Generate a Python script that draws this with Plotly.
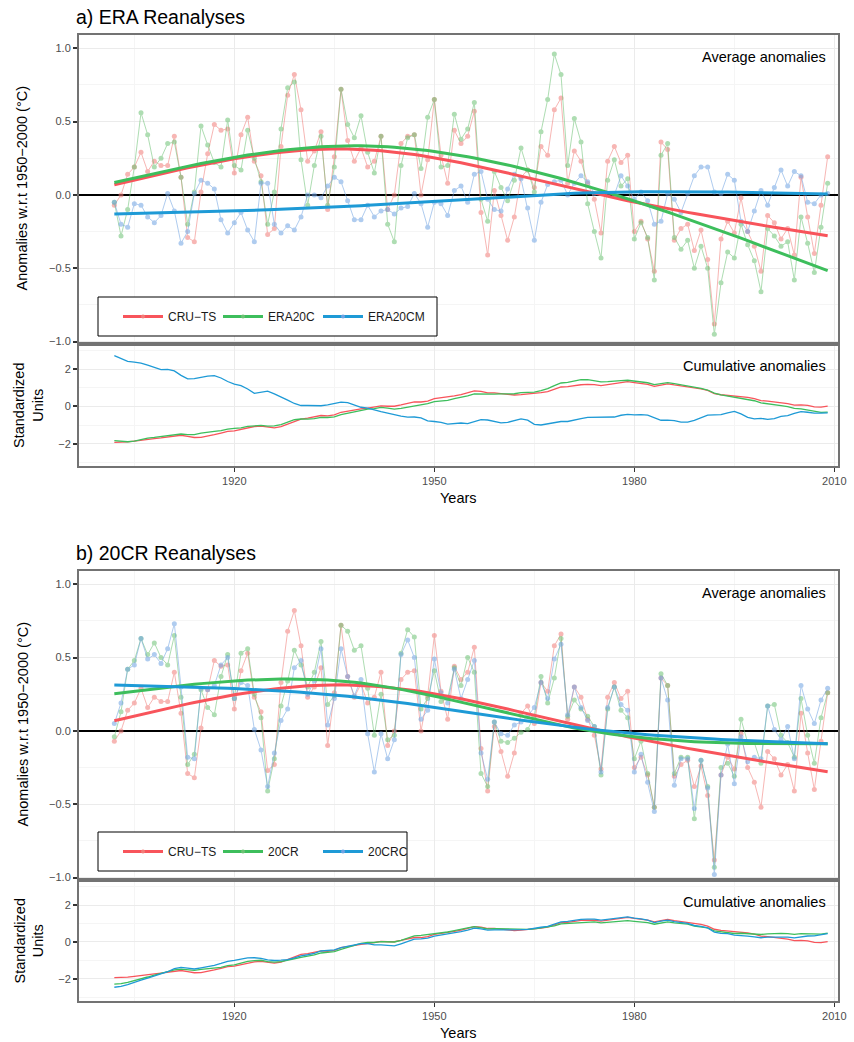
import numpy as np
import plotly.graph_objects as go

years = list(range(1902, 2010))

cru_ts = [-0.07, 0.00, 0.14, 0.19, 0.29, 0.16, 0.23, 0.20, 0.20, 0.40,
          0.12, -0.29, -0.32, 0.02, 0.28, 0.48, 0.44, 0.45, 0.15, 0.41,
          0.53, 0.23, 0.13, -0.27, -0.23, 0.33, 0.68, 0.82, 0.58, 0.23,
          0.30, 0.43, -0.10, 0.26, 0.72, 0.37, 0.23, 0.32, 0.19, 0.23,
          0.40, -0.10, 0.00, 0.35, 0.40, 0.41, 0.00, 0.24, 0.65, 0.27,
          0.08, 0.44, 0.35, 0.40, 0.57, -0.12, -0.41, 0.03, -0.14, -0.31,
          -0.15, 0.12, 0.17, 0.05, 0.33, 0.27, 0.58, 0.66, 0.08, 0.30,
          0.23, 0.08, -0.03, -0.26, 0.23, 0.33, 0.22, 0.27, -0.25, -0.18,
          -0.30, -0.52, 0.36, 0.31, -0.31, -0.23, -0.20, -0.38, -0.24, -0.44,
          -0.88, -0.30, -0.18, -0.26, -0.02, -0.25, -0.35, -0.52, -0.14, -0.19,
          -0.30, -0.23, -0.41, 0.12, -0.15, -0.40, -0.07, 0.26]

era20c = [-0.05, -0.28, -0.10, 0.19, 0.56, 0.41, 0.19, 0.25, 0.35, 0.36,
          0.12, -0.20, 0.02, 0.47, 0.34, 0.22, 0.19, 0.51, 0.20, 0.17,
          0.44, 0.25, 0.09, -0.20, 0.02, 0.45, 0.73, 0.77, 0.24, -0.07,
          0.20, 0.40, -0.07, 0.19, 0.72, 0.48, 0.39, 0.54, 0.29, 0.15,
          0.40, -0.20, -0.32, 0.20, 0.39, 0.41, 0.18, 0.53, 0.65, 0.19,
          0.20, 0.55, 0.38, 0.45, 0.63, -0.03, -0.18, 0.16, 0.05, -0.04,
          0.10, 0.32, 0.17, 0.02, 0.43, 0.65, 0.96, 0.82, 0.20, 0.52,
          0.36, -0.06, -0.25, -0.43, 0.10, 0.24, 0.06, 0.11, -0.30, -0.19,
          -0.29, -0.58, 0.27, 0.35, -0.29, -0.37, -0.31, -0.50, -0.35, -0.50,
          -0.95, -0.60, -0.39, -0.43, -0.20, -0.34, -0.45, -0.66, -0.23, -0.28,
          -0.35, -0.32, -0.58, -0.15, -0.33, -0.53, -0.22, 0.08]

era20cm = [-0.05, -0.20, -0.22, -0.06, -0.07, -0.15, -0.19, -0.14, 0.01, -0.11,
           -0.33, -0.25, 0.01, 0.10, 0.08, 0.04, -0.17, -0.26, -0.19, -0.12,
           -0.24, -0.32, 0.08, 0.08, -0.20, -0.26, -0.21, -0.24, -0.15, 0.00,
           0.00, -0.02, 0.06, 0.12, 0.09, -0.04, -0.17, -0.17, -0.07, -0.15,
           -0.11, -0.10, -0.13, -0.09, -0.08, 0.01, -0.06, -0.22, -0.05, -0.06,
           -0.14, 0.03, 0.06, -0.05, 0.14, 0.16, -0.03, -0.10, -0.11, 0.04,
           0.14, 0.11, -0.09, -0.31, -0.05, 0.07, 0.09, 0.10, 0.00, 0.08,
           0.13, 0.09, 0.01, 0.01, 0.01, 0.00, 0.13, 0.06, -0.03, 0.02,
           -0.04, -0.20, -0.18, 0.01, -0.03, -0.12, 0.01, 0.13, 0.19, 0.19,
           0.02, 0.01, 0.14, 0.10, -0.18, -0.25, -0.11, 0.03, -0.07, 0.05,
           0.17, 0.06, 0.16, 0.13, -0.05, -0.06, 0.00, 0.01]

cr20 = [-0.04, 0.13, 0.42, 0.48, 0.63, 0.52, 0.60, 0.50, 0.45, 0.65,
        0.23, -0.23, -0.16, 0.28, 0.16, 0.11, 0.37, 0.52, 0.22, 0.53,
        0.56, 0.25, 0.09, -0.41, -0.19, 0.17, 0.34, 0.55, 0.45, 0.30,
        0.40, 0.61, 0.18, 0.24, 0.72, 0.68, 0.55, 0.58, 0.29, -0.03,
        0.25, -0.06, -0.03, 0.53, 0.69, 0.64, 0.15, 0.22, 0.41, 0.20,
        0.22, 0.43, 0.31, 0.50, 0.40, -0.29, -0.38, 0.06, -0.07, -0.08,
        -0.05, -0.01, 0.01, 0.10, 0.37, 0.19, 0.36, 0.63, 0.10, 0.21,
        0.15, 0.10, 0.03, -0.30, 0.15, 0.30, 0.14, 0.09, -0.19, -0.07,
        -0.29, -0.52, 0.39, 0.31, -0.29, -0.18, -0.18, -0.60, -0.20, -0.38,
        -0.93, -0.25, -0.22, -0.31, 0.08, -0.08, -0.08, -0.22, 0.17, 0.18,
        -0.03, -0.08, -0.18, 0.22, -0.03, -0.22, 0.09, 0.26]

cr20c = [0.05, 0.19, 0.42, 0.45, 0.63, 0.49, 0.52, 0.46, 0.56, 0.73,
         0.30, -0.18, -0.19, 0.29, 0.28, 0.31, 0.45, 0.50, 0.22, 0.33,
         0.31, 0.01, -0.13, -0.38, -0.15, 0.07, 0.15, 0.43, 0.48, 0.25,
         0.34, 0.56, 0.04, 0.22, 0.56, 0.37, 0.24, 0.35, -0.02, -0.28,
         -0.02, -0.19, -0.06, 0.52, 0.62, 0.50, 0.08, 0.14, 0.49, 0.26,
         0.19, 0.42, 0.22, 0.35, 0.48, -0.15, -0.33, 0.06, -0.02, -0.03,
         0.04, 0.06, 0.10, 0.16, 0.33, 0.22, 0.49, 0.59, 0.11, 0.30,
         0.16, 0.07, 0.03, -0.28, 0.16, 0.30, 0.18, 0.14, -0.28, -0.16,
         -0.35, -0.55, 0.36, 0.21, -0.37, -0.19, -0.19, -0.53, -0.20, -0.39,
         -0.98, -0.30, -0.09, -0.36, -0.04, -0.21, -0.18, -0.19, 0.17, 0.01,
         -0.06, 0.03, -0.19, 0.31, 0.15, 0.05, 0.21, 0.29]

panel_a_names = ["CRU\u2212TS", "ERA20C", "ERA20CM"]
panel_b_names = ["CRU\u2212TS", "20CR", "20CRC"]
titles = ["a) ERA Reanalyses", "b) 20CR Reanalyses"]
x_ticks = [1920, 1950, 1980, 2010]
x_minor = [1905, 1935, 1965, 1995]
y_ticks = [-1.0, -0.5, 0.0, 0.5, 1.0]
y_ticktext = ["\u22121.0", "\u22120.5", "0.0", "0.5", "1.0"]
y_minor = [-0.75, -0.25, 0.25, 0.75]
c_ticks = [-2, 0, 2]
c_ticktext = ["\u22122", "0", "2"]
c_minor = [-3, -1, 1, 3]

LINE_COLS = ["#F8545B", "#3DBE5C", "#1E9AD6"]
DATA_COLS = ["#F27C78", "#6CC274", "#6FA3E3"]

W, H = 854, 1042
FONT = "Liberation Sans, Arial, sans-serif"


def ns_smooth(x, y, df=3):
    """Least-squares natural cubic spline fit (like lm(y ~ ns(x, df)))."""
    x = np.asarray(x, float)
    y = np.asarray(y, float)
    t = (x - x.min()) / (x.max() - x.min())
    knots = np.quantile(t, np.linspace(0, 1, df + 1))
    K = len(knots)

    def d(k):
        return (np.clip(t - knots[k], 0, None) ** 3
                - np.clip(t - knots[-1], 0, None) ** 3) / (knots[-1] - knots[k])

    cols = [np.ones_like(t), t] + [d(k) - d(K - 2) for k in range(K - 2)]
    B = np.vstack(cols).T
    beta, *_ = np.linalg.lstsq(B, y, rcond=None)
    return B @ beta


def cumstd(y):
    c = np.cumsum(np.asarray(y, float))
    return (c - c.mean()) / c.std(ddof=1)


def ydom(top_px, bot_px):
    return [1 - bot_px / H, 1 - top_px / H]


xdom = [78 / W, 839 / W]
panels = [
    dict(top=(34, 343), cum=(345, 467), series=[cru_ts, era20c, era20cm],
         names=panel_a_names, legend="legend", box=(98, 297, 437, 336)),
    dict(top=(570, 879), cum=(881, 1002), series=[cru_ts, cr20, cr20c],
         names=panel_b_names, legend="legend2", box=(98, 832, 407, 871)),
]

fig = go.Figure()
layout = {}
shapes = []
annotations = []

grid_major = "#EBEBEB"
grid_minor = "#F5F5F5"
xrange = [1896.55, 2010.7]

for p, pan in enumerate(panels):
    ia = 2 * p + 1
    ic = 2 * p + 2
    xa_t, ya_t = f"x{ia}", f"y{ia}"
    xa_c, ya_c = f"x{ic}", f"y{ic}"
    for k, (vals, name) in enumerate(zip(pan["series"], pan["names"])):
        fig.add_trace(go.Scatter(
            x=years, y=vals, mode="lines+markers", xaxis=xa_t, yaxis=ya_t,
            line=dict(color=DATA_COLS[k], width=1),
            marker=dict(color=DATA_COLS[k], size=5),
            opacity=0.55, showlegend=False, hoverinfo="skip"))
    for k, (vals, name) in enumerate(zip(pan["series"], pan["names"])):
        fig.add_trace(go.Scatter(
            x=years, y=ns_smooth(years, vals, 3), mode="lines", xaxis=xa_t,
            yaxis=ya_t, line=dict(color=LINE_COLS[k], width=3),
            showlegend=False, hoverinfo="skip"))
    for k, (vals, name) in enumerate(zip(pan["series"], pan["names"])):
        fig.add_trace(go.Scatter(
            x=years, y=cumstd(vals), mode="lines", xaxis=xa_c, yaxis=ya_c,
            line=dict(color=LINE_COLS[k], width=1.3), showlegend=False,
            hoverinfo="skip"))
    for k, name in enumerate(pan["names"]):
        fig.add_trace(go.Scatter(
            x=[None], y=[None], mode="lines+markers", xaxis=xa_t, yaxis=ya_t,
            name=name, legend=pan["legend"],
            legendwidth=(75 if k == 2 else 45),
            line=dict(color=LINE_COLS[k], width=3),
            marker=dict(color=DATA_COLS[k], size=4)))

    common_x = dict(domain=xdom, range=xrange, showgrid=True, gridcolor=grid_major,
                    gridwidth=1.1, tickvals=x_ticks, zeroline=False, showline=False,
                    automargin=False,
                    minor=dict(tickvals=x_minor, showgrid=True, gridcolor=grid_minor,
                               gridwidth=0.6, ticks=""))
    layout["xaxis" + ("" if ia == 1 else str(ia))] = dict(
        common_x, anchor=ya_t, showticklabels=False, ticks="")
    layout["xaxis" + str(ic)] = dict(
        common_x, anchor=ya_c, showticklabels=True, ticks="outside", ticklen=4,
        tickwidth=1.2, tickcolor="#333333",
        tickfont=dict(family=FONT, size=11, color="#4D4D4D"))
    layout["yaxis" + ("" if ia == 1 else str(ia))] = dict(
        domain=ydom(*pan["top"]), range=[-1.01, 1.097], anchor=xa_t,
        tickvals=y_ticks, ticktext=y_ticktext, ticks="outside", ticklen=4,
        tickwidth=1.5, tickcolor="#333333", automargin=False,
        tickfont=dict(family=FONT, size=11, color="#4D4D4D"),
        showgrid=True, gridcolor=grid_major, gridwidth=1.1,
        zeroline=True, zerolinecolor="black", zerolinewidth=1.5, showline=False,
        minor=dict(tickvals=y_minor, showgrid=True, gridcolor=grid_minor,
                   gridwidth=0.6, ticks=""))
    layout["yaxis" + str(ic)] = dict(
        domain=ydom(*pan["cum"]), range=[-3.25, 3.3], anchor=xa_c,
        tickvals=c_ticks, ticktext=c_ticktext, ticks="outside", ticklen=4,
        tickwidth=1.5, tickcolor="#333333", automargin=False,
        tickfont=dict(family=FONT, size=11, color="#4D4D4D"),
        showgrid=True, gridcolor=grid_major, gridwidth=1.1, zeroline=False,
        showline=False,
        minor=dict(tickvals=c_minor, showgrid=True, gridcolor=grid_minor,
                   gridwidth=0.6, ticks=""))

    for (t, b) in (pan["top"], pan["cum"]):
        shapes.append(dict(type="rect", xref="paper", yref="paper",
                           x0=xdom[0], x1=xdom[1], y0=1 - b / H, y1=1 - t / H,
                           line=dict(color="#737373", width=2), layer="above"))
    bx0, by0, bx1, by1 = pan["box"]
    shapes.append(dict(type="rect", xref="paper", yref="paper",
                       x0=bx0 / W, x1=bx1 / W, y0=1 - by1 / H, y1=1 - by0 / H,
                       line=dict(color="black", width=1), fillcolor="white",
                       layer="above"))
    layout[pan["legend"]] = dict(
        orientation="h", x=118 / W, xanchor="left",
        y=1 - ((by0 + by1) / 2) / H, yanchor="middle",
        bgcolor="rgba(0,0,0,0)", borderwidth=0, itemwidth=40,
        entrywidth=45, entrywidthmode="pixels",
        font=dict(family=FONT, size=12, color="#1A1A1A"))

    annotations.append(dict(text=titles[p], xref="paper", yref="paper",
                            x=74 / W, y=1 - (pan["top"][0] - 17) / H,
                            xanchor="left", yanchor="middle", showarrow=False,
                            font=dict(family=FONT, size=19.5, color="black")))
    annotations.append(dict(text="Average anomalies", xref="paper", yref="paper",
                            x=828 / W, y=1 - (pan["top"][0] + 23) / H,
                            xanchor="right", yanchor="middle", showarrow=False,
                            font=dict(family=FONT, size=14.5, color="black")))
    annotations.append(dict(text="Cumulative anomalies", xref="paper", yref="paper",
                            x=828 / W, y=1 - (pan["cum"][0] + 21) / H,
                            xanchor="right", yanchor="middle", showarrow=False,
                            font=dict(family=FONT, size=14.5, color="black")))
    annotations.append(dict(text="Anomalies w.r.t 1950\u22122000 (\u00b0C)",
                            xref="paper", yref="paper", x=22 / W,
                            y=1 - ((pan["top"][0] + pan["top"][1]) / 2) / H,
                            xanchor="center", yanchor="middle", textangle=-90,
                            showarrow=False,
                            font=dict(family=FONT, size=14.5, color="black")))
    annotations.append(dict(text="Standardized<br>Units",
                            xref="paper", yref="paper", x=29 / W,
                            y=1 - ((pan["cum"][0] + pan["cum"][1]) / 2) / H,
                            xanchor="center", yanchor="middle", textangle=-90,
                            showarrow=False,
                            font=dict(family=FONT, size=14.5, color="black")))
    annotations.append(dict(text="Years", xref="paper", yref="paper",
                            x=((xdom[0] + xdom[1]) / 2),
                            y=1 - (pan["cum"][1] + 31) / H,
                            xanchor="center", yanchor="middle", showarrow=False,
                            font=dict(family=FONT, size=14.5, color="black")))

fig.update_layout(
    width=W, height=H, margin=dict(l=0, r=0, t=0, b=0, autoexpand=False),
    paper_bgcolor="white", plot_bgcolor="white",
    font=dict(family=FONT, size=12, color="black"),
    shapes=shapes, annotations=annotations, **layout)

fig.write_html("out.html")
